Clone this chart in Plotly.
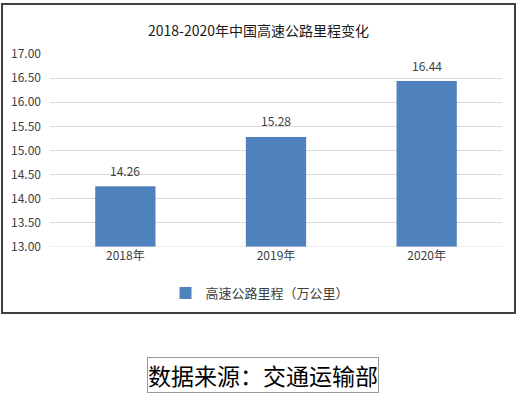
import plotly.graph_objects as go

categories = ["2018年", "2019年", "2020年"]
values = [14.26, 15.28, 16.44]
series_name = "高速公路里程（万公里）"
title_text = "2018-2020年中国高速公路里程变化"
source_text = "数据来源：交通运输部"
y_ticks = [13.0, 13.5, 14.0, 14.5, 15.0, 15.5, 16.0, 16.5, 17.0]

W, H = 519, 393
L, R, T, B = 50, 17, 54, 146
pw, ph = W - L - R, H - T - B

def px(x):
    return (x - L) / pw

def py(y):
    return (H - B - y) / ph

font = "Noto Sans CJK SC, Noto Sans, sans-serif"

fig = go.Figure()
fig.add_trace(go.Bar(
    x=categories, y=values, name=series_name,
    marker=dict(color="#4F81BD", line=dict(width=0)),
    width=0.4,
))

annotations = [
    dict(text=f"{v:.2f}", x=c, y=v, xref="x", yref="y", yshift=16, showarrow=False,
         xanchor="center", yanchor="middle", font=dict(size=12, color="#404040"))
    for c, v in zip(categories, values)
]
annotations += [
    # outer chart frame
    dict(text=" ", xref="paper", yref="paper", x=px(258.5), y=py(158.5), xanchor="center",
         yanchor="middle", showarrow=False, width=511, height=307, bordercolor="#404040",
         borderwidth=2, borderpad=0),
    dict(text=title_text, xref="paper", yref="paper", x=px(258), y=py(30), xanchor="center",
         yanchor="middle", showarrow=False, font=dict(size=14, color="#1a1a1a")),
    dict(text=source_text, xref="paper", yref="paper", x=px(263), y=py(375), xanchor="center",
         yanchor="middle", showarrow=False, font=dict(size=23, color="#000000", family="Noto Sans CJK SC"),
         bordercolor="#999999", borderwidth=1, borderpad=0),
]

fig.update_layout(
    width=W, height=H,
    margin=dict(l=L, r=R, t=T, b=B),
    paper_bgcolor="white", plot_bgcolor="white",
    font=dict(family=font, color="#404040"),
    showlegend=True,
    legend=dict(orientation="h", x=px(260), xanchor="center", y=py(293), yanchor="middle",
                font=dict(size=13, color="#404040"), bgcolor="rgba(0,0,0,0)",
                itemwidth=30),
    xaxis=dict(showgrid=False, showline=False, ticks="", tickfont=dict(size=12, color="#404040")),
    yaxis=dict(range=[13, 17], tickvals=y_ticks, ticktext=[f"{v:.2f}" for v in y_ticks],
               showgrid=True, gridcolor="#D9D9D9", gridwidth=1, zeroline=False,
               showline=False, ticks="", tickfont=dict(size=12, color="#404040"), ticklabelstandoff=8),
    shapes=[
        dict(type="line", xref="paper", yref="y", x0=0, x1=1, y0=13, y1=13,
             line=dict(color="#D9D9D9", width=1)),
    ],
    annotations=annotations,
)

fig.write_html("out.html", config={"displayModeBar": False},
               post_script="document.body.style.margin='0';document.body.style.overflow='hidden';")
